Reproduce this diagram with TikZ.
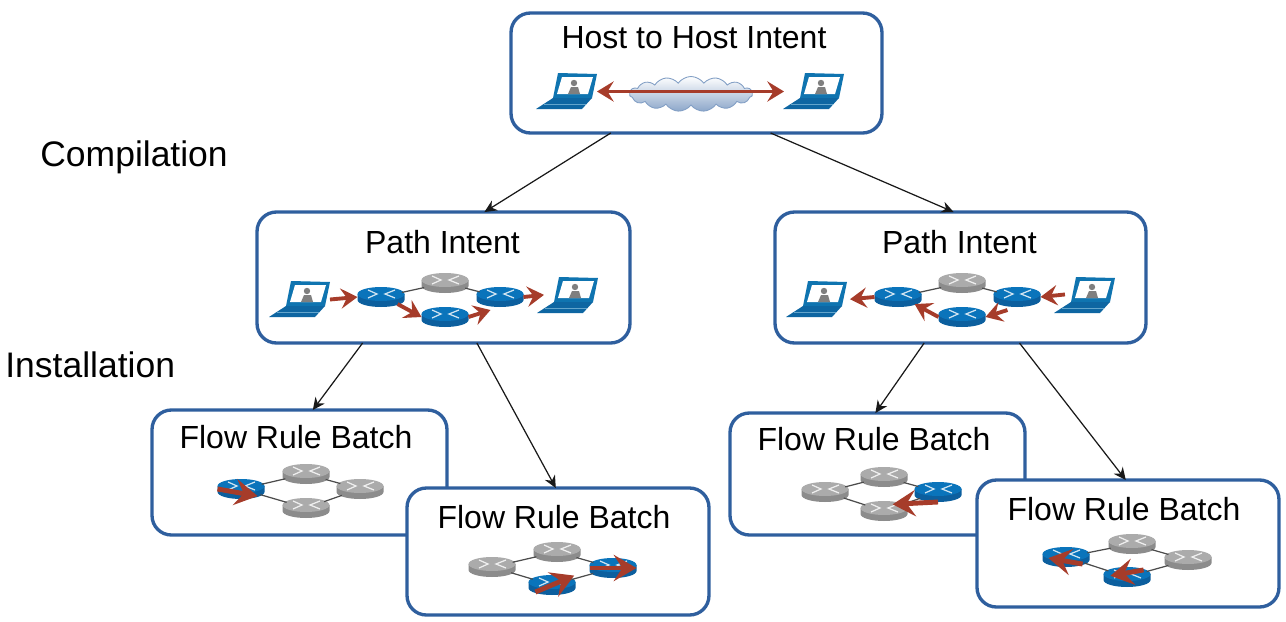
\documentclass[tikz,border=0pt]{standalone}
\usepackage{fontspec}
\setmainfont{Liberation Sans}
\usepackage{xcolor}
\usetikzlibrary{arrows.meta,shapes.geometric,shapes.symbols}

\definecolor{boxblue}{HTML}{2F5F9E}
\definecolor{flowred}{HTML}{A63C2A}
\definecolor{laptopblue}{HTML}{0F74B0}
\definecolor{laptopdark}{HTML}{0E66A2}
\definecolor{personGray}{HTML}{7F7F7F}
\definecolor{routerbluetop}{HTML}{0A74BB}
\definecolor{routerblueside}{HTML}{0C5F9E}
\definecolor{routergraytop}{HTML}{ABABAB}
\definecolor{routergrayside}{HTML}{8C8C8C}

\tikzset{
	intentbox/.style={draw=boxblue,line width=1.9pt,rounded corners=11pt,fill=white,inner sep=0pt,outer sep=0pt},
	boxtitle/.style={font=\fontsize{18.2}{20}\selectfont,inner sep=0pt},
	sidelabel/.style={font=\fontsize{20.2}{22}\selectfont,inner sep=0pt,anchor=base west},
	routerspot/.style={ellipse,minimum width=0.94cm,minimum height=0.4cm,inner sep=0pt,outer sep=0pt},
	laptopspot/.style={rectangle,minimum width=1.2cm,minimum height=0.7cm,inner sep=0pt,outer sep=0pt},
	link/.style={draw=black!70,line width=0.7pt},
	flow/.style={draw=flowred,line width=2.2pt,-{Stealth[length=9.5pt,width=11.5pt,inset=3.5pt]}},
	bigflow/.style={draw=flowred,line width=2.8pt,-{Stealth[length=13pt,width=15pt,inset=5pt]}},
	refine/.style={draw=black!90,line width=0.7pt,-{Stealth[length=7pt,width=6.5pt]}}
}

% name, x, y, blue or gray
\newcommand{\router}[4]{
	\node[routerspot] (#1) at (#2,#3) {};
	\begin{scope}[shift={(#2,#3)}]
		\fill[router#4side] (-23.5,-3) -- (-23.5,3) arc[start angle=180,end angle=0,x radius=23.5,y radius=7] -- (23.5,-3) -- cycle;
		\fill[router#4top] (0,-3) ellipse [x radius=23.5,y radius=7];
		\draw[white,opacity=0.8,line width=0.7pt] (-13,-7) -- (-4,-3) -- (-13,1);
		\draw[white,opacity=0.8,line width=0.7pt] (14,-7) -- (4,-3) -- (14,1);
	\end{scope}
}

% name, x and y of the upper left corner
\newcommand{\laptop}[3]{
	\begin{scope}[shift={(#2,#3)}]
		\node[laptopspot] (#1) at (30,17.5) {};
		\fill[laptopblue] (21,-1) -- (60,0) -- (55,24) -- (16,24) -- cycle;
		\fill[white] (25,3) -- (56,3) -- (51,20) -- (20,20) -- cycle;
		\fill[personGray] (31,20) -- (34,13) -- (41,13) -- (43,20) -- cycle;
		\fill[personGray] (37,9) circle (3.2);
		\fill[laptopdark] (16,24) -- (55,24) -- (45,35) -- (-1,35) -- cycle;
		\draw[laptopblue!65!white,line width=0.4pt] (7,30) -- (49,30);
	\end{scope}
}

\begin{document}
\begin{tikzpicture}[x=0.02cm,y=-0.02cm]
		
		\useasboundingbox (0,0) rectangle (1286,622);
		
		% Boxes, the later ones lie over the earlier ones
		\node[intentbox,minimum width=7.42cm,minimum height=2.4cm] (host) at (696.5,73) {};
		\node[intentbox,minimum width=7.46cm,minimum height=2.62cm] (pathL) at (443.5,277.5) {};
		\node[intentbox,minimum width=7.42cm,minimum height=2.62cm] (pathR) at (960.5,277.5) {};
		\node[intentbox,minimum width=5.9cm,minimum height=2.5cm] (flowLa) at (299.5,472.5) {};
		\node[intentbox,minimum width=6.04cm,minimum height=2.54cm] (flowLb) at (558,551.5) {};
		\node[intentbox,minimum width=5.9cm,minimum height=2.44cm] (flowRa) at (877.5,474) {};
		\node[intentbox,minimum width=6.04cm,minimum height=2.54cm] (flowRb) at (1128,543.5) {};
		
		\node[boxtitle] (hostT) at (694,37.5) {Host to Host Intent};
		\node[boxtitle] (pathLT) at (442.5,242) {Path Intent};
		\node[boxtitle] (pathRT) at (959.5,242) {Path Intent};
		\node[boxtitle] (flowLaT) at (296,437.5) {Flow Rule Batch};
		\node[boxtitle] (flowLbT) at (554,517) {Flow Rule Batch};
		\node[boxtitle] (flowRaT) at (874,439) {Flow Rule Batch};
		\node[boxtitle] (flowRbT) at (1124,509) {Flow Rule Batch};
		
		\node[sidelabel] (compile) at (40,166) {Compilation};
		\node[sidelabel] (install) at (5,377) {Installation};
		
		% Host intent
		\node[cloud,cloud puffs=15,cloud puff arc=110,aspect=3.5,draw=boxblue!60,line width=0.5pt,top color=white,bottom color=boxblue!55,inner sep=0pt,minimum width=2.46cm,minimum height=0.7cm] (net) at (691,94) {};
		\laptop{hostA}{537}{74}
		\laptop{hostB}{784}{74}
		\draw[flow,{Stealth[length=9.5pt,width=11.5pt,inset=3.5pt]}-{Stealth[length=9.5pt,width=11.5pt,inset=3.5pt]}] (hostA.east) -- (hostB.west);
		
		% Left path intent
		\laptop{lhA}{270}{282}
		\laptop{lhB}{538}{278}
		\router{lr1}{381}{297}{blue}
		\router{lr2}{445}{283}{gray}
		\router{lr3}{445}{317}{blue}
		\router{lr4}{500}{297}{blue}
		\draw[link] (lr1) -- (lr2);
		\draw[link] (lr2) -- (lr4);
		\draw[flow] (lhA.east) -- (lr1.west);
		\draw[flow] (lr1.south east) -- (lr3.west);
		\draw[flow,shorten >=0.2cm] (lr3.east) -- (lr4.south);
		\draw[flow,shorten >=-0.12cm] (lr4.east) -- (lhB.west);
		
		% Right path intent
		\laptop{rhA}{787}{282}
		\laptop{rhB}{1055}{278}
		\router{rr1}{898}{297}{blue}
		\router{rr2}{962}{283}{gray}
		\router{rr3}{962}{317}{blue}
		\router{rr4}{1017}{297}{blue}
		\draw[link] (rr1) -- (rr2);
		\draw[link] (rr2) -- (rr4);
		\draw[flow,shorten <=-0.2cm] (rhB.west) -- (rr4.east);
		\draw[flow,shorten <=0.2cm] (rr4.south) -- (rr3.east);
		\draw[flow] (rr3.west) -- (rr1.south east);
		\draw[flow,shorten >=0.06cm] (rr1.west) -- (rhA.east);
		
		% Flow rule batches
		\router{laA}{241}{489}{blue}
		\router{laB}{306}{474}{gray}
		\router{laC}{306}{508}{gray}
		\router{laD}{360}{489}{gray}
		\draw[link] (laA) -- (laB);
		\draw[link] (laA) -- (laC);
		\draw[link] (laB) -- (laD);
		\draw[link] (laC) -- (laD);
		\draw[bigflow] (laA.west) -- (laA.south east);
		
		\router{lbA}{492}{567}{gray}
		\router{lbB}{557}{552}{gray}
		\router{lbC}{552}{585}{blue}
		\router{lbD}{613}{568}{blue}
		\draw[link] (lbA) -- (lbB);
		\draw[link] (lbA) -- (lbC);
		\draw[link] (lbB) -- (lbD);
		\draw[link] (lbC) -- (lbD);
		\draw[bigflow,shorten >=-0.12cm] (lbC.south west) -- (lbC.north east);
		\draw[bigflow] (lbD.west) -- (lbD.east);
		
		\router{raA}{825}{492}{gray}
		\router{raB}{884}{477}{gray}
		\router{raC}{884}{511}{gray}
		\router{raD}{938}{492}{blue}
		\draw[link] (raA) -- (raB);
		\draw[link] (raA) -- (raC);
		\draw[link] (raB) -- (raD);
		\draw[link] (raC) -- (raD);
		\draw[bigflow,shorten >=-0.16cm] (raD.south) -- (raC.north east);
		
		\router{rbA}{1066}{557}{blue}
		\router{rbB}{1132}{544}{gray}
		\router{rbC}{1127}{577}{blue}
		\router{rbD}{1188}{560}{gray}
		\draw[link] (rbA) -- (rbB);
		\draw[link] (rbA) -- (rbC);
		\draw[link] (rbB) -- (rbD);
		\draw[link] (rbC) -- (rbD);
		\draw[bigflow,shorten >=0.12cm] (rbA.south east) -- (rbA.west);
		\draw[bigflow,shorten >=0.14cm] (rbC.north east) -- (rbC.west);
		
		% Refinement
		\draw[refine] (host.215.4) -- (pathL.58.9);
		\draw[refine] (host.321.9) -- (pathR.96.5);
		\draw[refine] (pathL.219.1) -- (flowLa.78.7);
		\draw[refine] (pathL.297.8) -- (flowLb.92.7);
		\draw[refine] (pathR.241.5) -- (flowRa.92.3);
		\draw[refine] (pathR.312.3) -- (flowRb.92.7);
		
	\end{tikzpicture}
\end{document}
